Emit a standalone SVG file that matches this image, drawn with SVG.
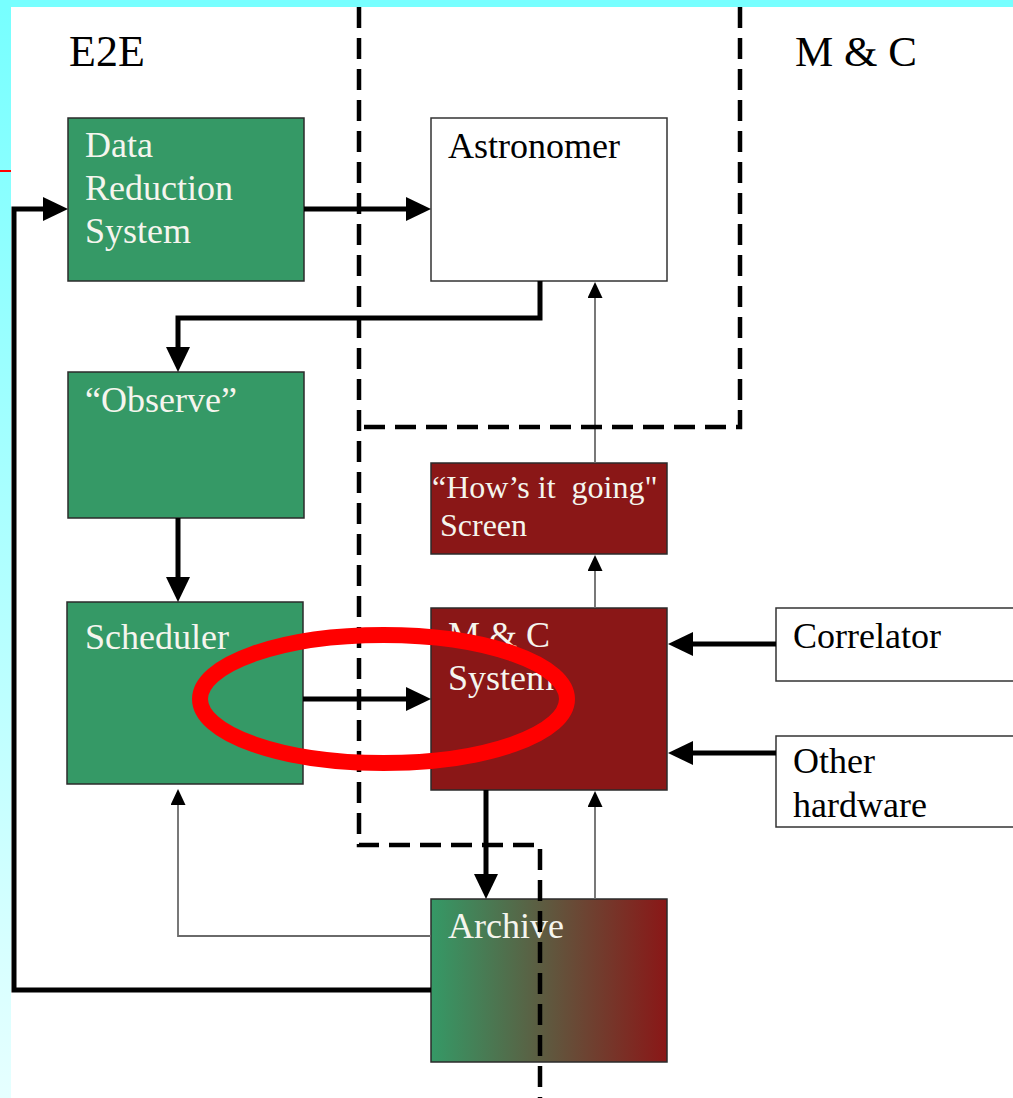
<svg xmlns="http://www.w3.org/2000/svg" width="1013" height="1098" viewBox="0 0 1013 1098">
<defs>
<linearGradient id="sideGrad" x1="0" y1="0" x2="0" y2="1">
<stop offset="0" stop-color="#77ffff"/>
<stop offset="1" stop-color="#e6ffff"/>
</linearGradient>
<linearGradient id="archGrad" x1="0" y1="0" x2="1" y2="0">
<stop offset="0" stop-color="#359966"/>
<stop offset="1" stop-color="#8a1717"/>
</linearGradient>
<marker id="big" markerUnits="userSpaceOnUse" viewBox="0 0 25 24" refX="13" refY="12" markerWidth="25" markerHeight="24" orient="auto">
<path d="M0,0 L25,12 L0,24 z" fill="#000"/>
</marker>
<marker id="small" markerUnits="userSpaceOnUse" viewBox="0 0 16 15" refX="8" refY="7.5" markerWidth="16" markerHeight="15" orient="auto">
<path d="M0,0 L16,7.5 L0,15 z" fill="#000"/>
</marker>
<style>
.lbl{font-family:"Liberation Serif","Times New Roman",serif;font-size:36px;}
.lt{fill:#f5f5ee;}
.dk{fill:#000;}
.green{fill:#359966;stroke:#2b2b2b;stroke-width:1.5;}
.red{fill:#8a1717;stroke:#2b2b2b;stroke-width:1.5;}
.white{fill:#fff;stroke:#333;stroke-width:1.5;}
.thick{fill:none;stroke:#000;stroke-width:5;marker-end:url(#big);}
.thin{fill:none;stroke:#6a6a6a;stroke-width:1.8;marker-end:url(#small);}
.dash{fill:none;stroke:#000;stroke-width:4.5;stroke-dasharray:21 10;}
</style>
</defs>
<g id="background">
<rect x="0" y="0" width="1013" height="1098" fill="#fff"/>
<rect x="0" y="0" width="1013" height="7" fill="#77ffff"/>
<rect x="0" y="7" width="11" height="1091" fill="url(#sideGrad)"/>
<line x1="0" y1="171" x2="11" y2="171" stroke="#ff0000" stroke-width="2"/>
<text x="69" y="66" class="lbl dk" style="font-size:44px">E2E</text>
<text x="795" y="66" class="lbl dk" style="font-size:43px">M &amp; C</text>
</g>
<g id="node-drs">
<rect x="68" y="118" width="236" height="163" class="green"/>
<text class="lbl lt" x="85" y="157">Data</text>
<text class="lbl lt" x="85" y="200">Reduction</text>
<text class="lbl lt" x="85" y="243">System</text>
</g>
<g id="node-astronomer">
<rect x="431" y="118" width="236" height="163" class="white"/>
<text class="lbl dk" x="448" y="158">Astronomer</text>
</g>
<g id="node-observe">
<rect x="68" y="372" width="236" height="146" class="green"/>
<text class="lbl lt" x="85" y="412">“Observe”</text>
</g>
<g id="node-scheduler">
<rect x="67" y="602" width="236" height="182" class="green"/>
<text class="lbl lt" x="85" y="649">Scheduler</text>
</g>
<g id="node-howsitgoing">
<rect x="431" y="463" width="236" height="91" class="red"/>
<text class="lbl lt" x="432" y="498" style="font-size:32px;white-space:pre" xml:space="preserve">“How’s it  going"</text>
<text class="lbl lt" x="440" y="536" style="font-size:32px">Screen</text>
</g>
<g id="node-mcsystem">
<rect x="431" y="608" width="236" height="182" class="red"/>
<text class="lbl lt" x="448" y="647">M &amp; C</text>
<text class="lbl lt" x="448" y="690">System</text>
</g>
<g id="node-correlator">
<rect x="776" y="608" width="250" height="73" class="white"/>
<text class="lbl dk" x="793" y="648">Correlator</text>
</g>
<g id="node-otherhw">
<rect x="776" y="736" width="250" height="91" class="white"/>
<text class="lbl dk" x="793" y="773">Other</text>
<text class="lbl dk" x="793" y="817">hardware</text>
</g>
<g id="node-archive">
<rect x="431" y="899" width="236" height="163" fill="url(#archGrad)" stroke="#2b2b2b" stroke-width="1.5"/>
<text class="lbl lt" x="448" y="938">Archive</text>
</g>
<g id="connectors">
<path class="thick" d="M304,209 H419"/>
<path class="thick" d="M431,990 H14 V209 H56"/>
<path class="thick" d="M540,281 V318 H178 V360"/>
<path class="thick" d="M178,518 V590"/>
<path class="thick" d="M303,699 H419"/>
<path class="thick" d="M776,644 H680"/>
<path class="thick" d="M776,753 H680"/>
<path class="thick" d="M486,790 V887"/>
<path class="thin" d="M595,899 V799"/>
<path class="thin" d="M595,608 V563"/>
<path class="thin" d="M595,463 V290"/>
<path class="thin" d="M431,936 H178 V797"/>
</g>
<g id="boundaries">
<path class="dash" d="M359,7 V845 H540 V1098"/>
<path class="dash" d="M740,7 V427 H359"/>
</g>
<g id="highlight">
<ellipse cx="383.5" cy="699" rx="183.5" ry="64" fill="none" stroke="#ff0000" stroke-width="16"/>
</g>
</svg>
